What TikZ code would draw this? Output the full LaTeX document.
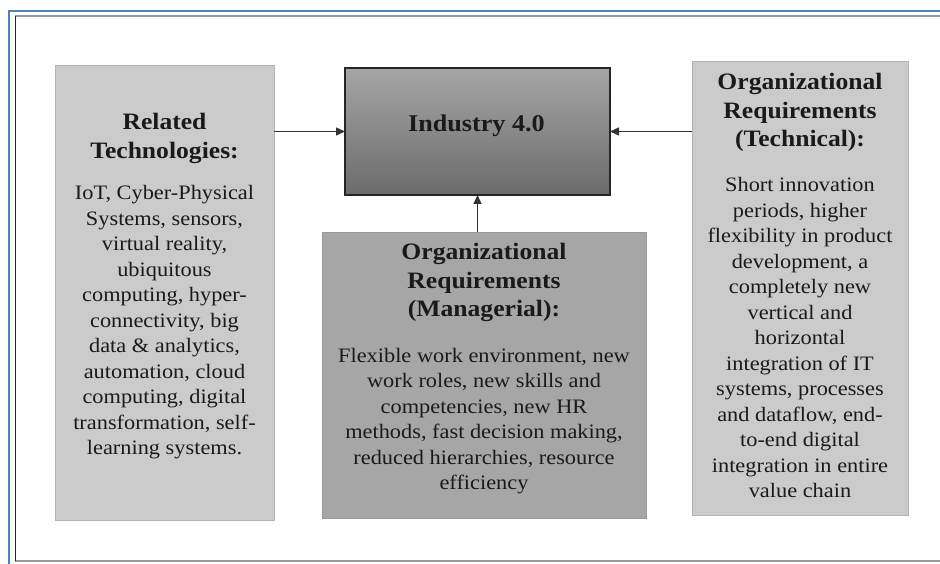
\documentclass[tikz,border=0pt]{standalone}
\usepackage{fontspec}
\setmainfont{Liberation Serif}[FakeStretch=1.09]
\usetikzlibrary{arrows.meta}
\newcommand\centredlines[2]{\parbox[t]{#1}{\centering #2}}
\definecolor{framebl}{HTML}{4F81BD}
\definecolor{framegr}{HTML}{9A9A9A}
\definecolor{lightpanel}{HTML}{CBCBCB}
\definecolor{midpanel}{HTML}{A6A6A6}
\definecolor{panelline}{HTML}{B3B3B3}
\definecolor{inktext}{HTML}{1A1A1A}
\tikzset{
  panel/.style={rectangle, inner sep=0pt, outer sep=0pt, draw=panelline, line width=0.8pt},
  heading/.style={inner sep=0pt, anchor=base, text=inktext,
    font=\bfseries\fontsize{23.5}{28.5}\selectfont},
  bodytext/.style={inner sep=0pt, anchor=base, text=inktext,
    font=\fontsize{20.5}{25.5}\selectfont},
  flow/.style={draw=black!80, line width=1.3pt, -{Triangle[length=9pt,width=8pt]}},
}
\begin{document}
\begin{tikzpicture}[x=1pt, y=-1pt]
  \useasboundingbox (0,0) rectangle (940,564);
  \fill[white] (0,0) rectangle (940,564);
  % page frame
  \draw[framebl, line width=2pt] (9,564) -- (9,11) -- (940,11);
  \draw[framegr, line width=2pt] (15,16) -- (940,16);
  \draw[framegr, line width=2pt] (15,561) -- (940,561);
  \draw[black!85, line width=1.5pt] (15.5,16) -- (15.5,561);

  % panels
  \node[panel, fill=lightpanel, minimum width=219pt, minimum height=455pt] (tech) at (164.5,292.5) {};
  \node[panel, fill=midpanel, draw=framegr, minimum width=324pt, minimum height=286pt] (mgmt) at (484,375) {};
  \node[panel, fill=lightpanel, minimum width=216pt, minimum height=454pt] (techreq) at (800,288) {};
  \node[rectangle, inner sep=0pt, outer sep=0pt, draw=black!85, line width=1.4pt,
        top color=black!35, bottom color=black!58,
        minimum width=265pt, minimum height=127pt] (ind) at (477.5,131.5) {};
  \node[heading, font=\bfseries\fontsize{24}{28}\selectfont] (indlabel) at (476.5,132) {Industry 4.0};

  % related technologies
  \node[heading] (techhead) at (164.5,130) {\centredlines{215pt}{Related\\Technologies:}};
  \node[bodytext] (techbody) at (164.5,200) {\centredlines{215pt}{IoT, Cyber-Physical\\Systems, sensors,\\virtual reality,\\ubiquitous\\computing, hyper-\\connectivity, big\\data \& analytics,\\automation, cloud\\computing, digital\\transformation, self-\\learning systems.}};

  % managerial requirements
  \node[heading] (mgmthead) at (484,260) {\centredlines{320pt}{Organizational\\Requirements\\(Managerial):}};
  \node[bodytext] (mgmtbody) at (484,362) {\centredlines{320pt}{Flexible work environment, new\\work roles, new skills and\\competencies, new HR\\methods, fast decision making,\\reduced hierarchies, resource\\efficiency}};

  % technical requirements
  \node[heading] (techreqhead) at (800,90) {\centredlines{212pt}{Organizational\\Requirements\\(Technical):}};
  \node[bodytext] (techreqbody) at (800,192) {\centredlines{212pt}{Short innovation\\periods, higher\\flexibility in product\\development, a\\completely new\\vertical and\\horizontal\\integration of IT\\systems, processes\\and dataflow, end-\\to-end digital\\integration in entire\\value chain}};

  % connectors into Industry 4.0
  \draw[flow] (tech.east |- ind.west) -- (ind.west);
  \draw[flow] (techreq.west |- ind.east) -- (ind.east);
  \draw[flow] (mgmt.north -| ind.south) -- (ind.south);
\end{tikzpicture}
\end{document}
